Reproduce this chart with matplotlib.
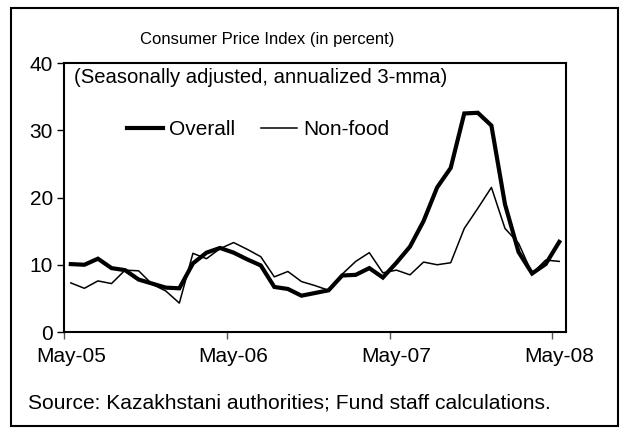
import matplotlib.pyplot as plt
from matplotlib.patches import Rectangle

plt.rcParams["font.family"] = ["Liberation Sans", "DejaVu Sans"]

# ============================
# DATA (monthly, May-05 .. May-08)
# ============================
overall = [10.1, 10.0, 10.9, 9.5, 9.2, 7.8, 7.2, 6.6, 6.5, 10.2,
           11.8, 12.5, 11.8, 10.8, 9.9, 6.7, 6.4, 5.4, 5.8, 6.2,
           8.4, 8.5, 9.5, 8.1, 10.3, 12.7, 16.5, 21.5, 24.4, 32.5,
           32.6, 30.7, 19.0, 11.9, 8.7, 10.1, 13.4]
non_food = [7.3, 6.5, 7.6, 7.2, 9.2, 9.1, 7.1, 6.1, 4.3, 11.7,
            10.9, 12.4, 13.3, 12.3, 11.2, 8.2, 9.0, 7.5, 6.9, 6.2,
            8.6, 10.5, 11.8, 8.8, 9.2, 8.5, 10.4, 10.0, 10.3, 15.4,
            18.4, 21.5, 15.4, 13.2, 8.7, 10.7, 10.5]
tick_labels = ["May-05", "May-06", "May-07", "May-08"]
y_ticks = [0, 10, 20, 30, 40]

x = list(range(len(overall)))

fig = plt.figure(figsize=(6.24, 4.29), dpi=100)
ax = fig.add_axes([0.1026, 0.2261, 0.8045, 0.627])

ax.plot(x, overall, color="black", lw=3.0, label="Overall", solid_joinstyle="miter")
ax.plot(x, non_food, color="black", lw=1.1, label="Non-food")

ax.set_xlim(-0.5, len(x) - 0.5)
ax.set_ylim(0, 40)
ax.set_yticks(y_ticks)
ax.tick_params(axis="y", length=5, width=1, labelsize=15, pad=3)

# ticks between categories, labels on category centres
ax.set_xticks([-0.5, 11.5, 23.5, 35.5])
ax.set_xticklabels([])
ax.set_xticks([0, 12, 24, 36], minor=True)
ax.set_xticklabels(tick_labels, minor=True)
ax.tick_params(axis="x", which="major", length=5, width=1, color="#555555")
ax.tick_params(axis="x", which="minor", length=0, labelsize=15, pad=11)

for s in ax.spines.values():
    s.set_linewidth(1.5)

ax.text(0.02, 0.948, "(Seasonally adjusted, annualized 3-mma)",
        transform=ax.transAxes, fontsize=14.6, va="center", ha="left")

ax.legend(loc="center left", bbox_to_anchor=(0.125, 0.751), ncol=2,
          frameon=False, fontsize=15, handlelength=1.75, handletextpad=0.3,
          columnspacing=1.2, borderpad=0, borderaxespad=0)

fig.text(0.428, 0.907, "Consumer Price Index (in percent)", fontsize=12,
         ha="center", va="center")
fig.text(0.045, 0.0606, "Source: Kazakhstani authorities; Fund staff calculations.",
         fontsize=15.1, ha="left", va="center")

# outer frame
fig.patches.append(Rectangle((11 / 624, 1 - 426 / 429), 607 / 624, 418 / 429,
                             transform=fig.transFigure, fill=False,
                             edgecolor="black", lw=1.5))

fig.savefig("out.png", dpi=100)
